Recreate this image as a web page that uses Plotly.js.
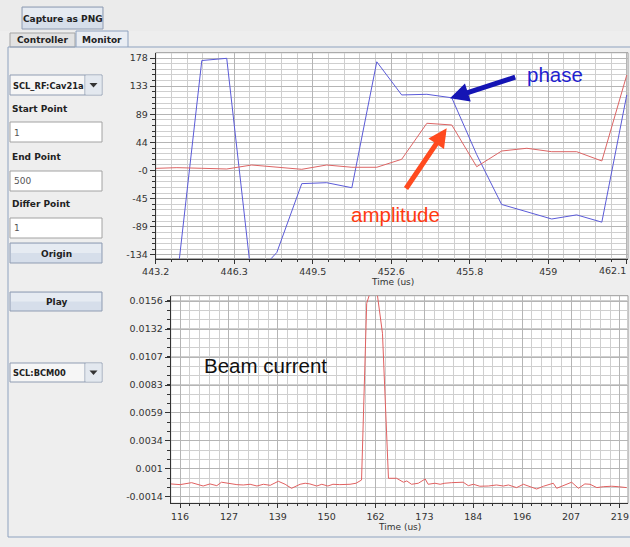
<!DOCTYPE html>
<html><head><meta charset="utf-8">
<script src="https://cdn.plot.ly/plotly-3.0.1.min.js"></script>
<style>html,body{margin:0;padding:0;background:#eeeeee;}#chart{width:630px;height:547px;}</style>
</head><body><div id="chart"></div>
<script>
// ---- top panel: RF cavity phase / amplitude vs time (us)
const topTime = [443.05, 444.05, 445.05, 446.05, 447.05, 448.06, 449.06, 450.06, 451.07, 452.07, 453.07, 454.08, 455.08, 456.08, 457.08, 458.09, 459.09, 460.09, 461.1, 462.1];
const phase = [-170, -175, 174, 177.5, -173, -130, -21, -19.5, -27.5, 172, 119.5, 120.5, 115, 25, -54, -65, -77, -70.5, -82, 119.5];
const amplitude = [3, 4.3, 3.3, 2.2, 8.5, 4.9, 1.7, 8.5, 4.9, 4.9, 17.6, 74.6, 71.9, 5.8, 30.7, 35, 29.6, 29.6, 14.9, 151];
const topXTicks = [443.2, 446.35, 449.5, 452.65, 455.8, 458.95, 462.1];
const topXLabels = ['443.2', '446.3', '449.5', '452.6', '455.8', '459', '462.1'];
const topYTicks = [-134, -89.43, -44.86, -0.29, 44.29, 88.86, 133.43, 178];
const topYLabels = ['-134', '-89', '-45', '-0', '44', '89', '133', '178'];

// ---- bottom panel: beam current vs time (us)
const beamTime = [113.8, 116.0, 118.7, 120.3, 121.4, 123.0, 124.6, 125.7, 127.7, 129.3, 130.8, 132.4, 134.0, 135.5, 137.1, 139.0, 140.6, 142.1, 144.1, 145.3, 146.4, 148.0, 149.2, 150.6, 151.8, 153.4, 155.8, 157.2, 158.5, 159.7, 160.9, 162.0, 163.4, 164.8, 166.7, 168.3, 169.1, 170.2, 171.8, 173.4, 174.1, 175.7, 176.9, 178.0, 179.6, 181.2, 182.3, 183.5, 184.7, 186.2, 188.2, 190.1, 191.7, 192.9, 194.8, 196.4, 197.5, 199.5, 201.1, 203.4, 204.2, 206.1, 207.7, 209.3, 210.8, 212.0, 213.6, 215.1, 217.1, 218.6, 220.6];
const beamCurrent = [-0.00027, -0.00033, -0.00016, -0.00036, -0.00045, -0.00027, -0.00042, -0.00012, -0.00027, -0.00033, -0.00036, -0.0003, -0.00045, -0.0003, -0.00039, -0.00004, -0.0003, -0.00065, -0.0003, -0.00021, -0.00027, -0.00045, -0.0003, -0.00045, -0.0003, -0.00033, -0.0003, -0.00021, 0.00007, 0.0154, 0.0168, 0.0167, 0.0128, 0.00022, 0.00022, -0.00012, -0.00001, -0.0003, -0.00021, 0.00016, -0.0003, -0.00021, -0.0003, -0.00021, -0.00016, -0.00012, -0.00012, -0.00042, -0.0003, -0.00047, -0.00045, -0.00036, -0.00045, -0.00036, -0.00059, -0.0003, -0.00047, -0.00071, -0.00047, -0.00021, -0.00065, -0.00036, -0.00012, -0.00065, -0.00027, -0.0003, -0.00059, -0.00051, -0.00047, -0.00051, -0.00059];
const botXTicks = [116, 127.44, 138.89, 150.33, 161.78, 173.22, 184.67, 196.11, 207.56, 219];
const botXLabels = ['116', '127', '139', '150', '162', '173', '184', '196', '207', '219'];
const botYTicks = [-0.0014, 0.00103, 0.00346, 0.00589, 0.00831, 0.01074, 0.01317, 0.0156];
const botYLabels = ['-0.0014', '0.001', '0.0034', '0.0059', '0.0083', '0.0107', '0.0132', '0.0156'];

// ---- GUI text
const captureLabel = 'Capture as PNG';
const tabLabels = ['Controller', 'Monitor'];
const rfDevice = 'SCL_RF:Cav21a';
const bcmDevice = 'SCL:BCM00';
const fieldLabels = ['Start Point', 'End Point', 'Differ Point'];
const fieldValues = ['1', '500', '1'];
const buttonLabels = ['Origin', 'Play'];
const axisTitle = 'Time (us)';

const W = 630, H = 547;
const X = p => p / W;
const Y = p => 1 - p / H;

const tickFont = {family: 'DejaVu Sans, sans-serif', size: 9.5, color: '#333'};
const guiBold = {family: 'DejaVu Sans, sans-serif', size: 9, color: '#222', weight: 'bold'};
const comboBold = {family: 'DejaVu Sans, sans-serif', size: 8.3, color: '#222', weight: 'bold'};
const guiNorm = {family: 'DejaVu Sans, sans-serif', size: 9, color: '#555'};

function axisBase(extra) {
  return Object.assign({
    tickmode: 'array', ticks: 'outside', ticklen: 4, tickwidth: 1, tickcolor: '#333',
    showline: true, linecolor: '#333', linewidth: 1, zeroline: false,
    showgrid: true, gridcolor: '#b5b5b5', gridwidth: 1, ticklabeloverflow: 'allow',
    tickfont: tickFont, fixedrange: true
  }, extra);
}

const traces = [
  {x: topTime, y: phase, xaxis: 'x', yaxis: 'y', mode: 'lines', line: {color: '#5a5ad8', width: 1}, hoverinfo: 'skip'},
  {x: topTime, y: amplitude, xaxis: 'x', yaxis: 'y', mode: 'lines', line: {color: '#dc6464', width: 1}, hoverinfo: 'skip'},
  {x: beamTime, y: beamCurrent, xaxis: 'x2', yaxis: 'y2', mode: 'lines', line: {color: '#e06060', width: 1}, hoverinfo: 'skip'}
];

const shapes = [];
const annotations = [];
function rect(x0, y0, x1, y1, fill, line) {
  shapes.push({type: 'rect', xref: 'paper', yref: 'paper', x0: X(x0), x1: X(x1), y0: Y(y1), y1: Y(y0),
    fillcolor: fill, line: {color: line || 'rgba(0,0,0,0)', width: line ? 1 : 0}, layer: 'above'});
}
function hline(x0, x1, y, color) {
  shapes.push({type: 'line', xref: 'paper', yref: 'paper', x0: X(x0), x1: X(x1), y0: Y(y), y1: Y(y), line: {color: color, width: 1}, layer: 'above'});
}
function vline(x, y0, y1, color) {
  shapes.push({type: 'line', xref: 'paper', yref: 'paper', x0: X(x), x1: X(x), y0: Y(y0), y1: Y(y1), line: {color: color, width: 1}, layer: 'above'});
}
function text(x, y, t, font, xanchor) {
  annotations.push({xref: 'paper', yref: 'paper', x: X(x), y: Y(y), text: t, showarrow: false,
    font: font, xanchor: xanchor || 'left', yanchor: 'middle'});
}
function tri(cx, cy) {
  shapes.push({type: 'path', xref: 'paper', yref: 'paper',
    path: 'M ' + X(cx - 4) + ' ' + Y(cy - 2) + ' L ' + X(cx + 4) + ' ' + Y(cy - 2) + ' L ' + X(cx) + ' ' + Y(cy + 2.5) + ' Z',
    fillcolor: '#333', line: {width: 0}, layer: 'above'});
}
function button(x0, y0, x1, y1, label) {
  rect(x0, y0, x1, y1, '#d6deea', '#8f9cb2');
  rect(x0 + 1, y0 + 1, x1 - 1, (y0 + y1) / 2, '#e6ebf2');
  text((x0 + x1) / 2, (y0 + y1) / 2 + 0.5, '<b>' + label + '</b>', guiBold, 'center');
}
function combo(x0, y0, x1, y1, label) {
  rect(x0, y0, x1, y1, '#f6f6f6', '#8f9cb2');
  vline(x1 - 17, y0, y1, '#8f9cb2');
  rect(x1 - 16.5, y0 + 0.5, x1 - 0.5, y1 - 0.5, '#e3e8ef');
  tri(x1 - 8.5, (y0 + y1) / 2);
  text(x0 + 0.5, (y0 + y1) / 2 + 0.5, '<b>' + label + '</b>', comboBold);
}
function field(x0, y0, x1, y1, value) {
  rect(x0, y0, x1, y1, '#ffffff', '#a2a2a2');
  text(x0 + 2, (y0 + y1) / 2 + 0.5, value, guiNorm);
}

// toolbar + tabs + panel frame
rect(0, 0, 630, 31, '#ebebeb');
button(22, 7, 103, 29, captureLabel);
rect(10, 33, 75, 47, '#e2e2e2', '#a5a5a5');
text(42.5, 40.5, '<b>' + tabLabels[0] + '</b>', guiBold, 'center');
rect(76, 31, 128, 47, '#e9edf3', '#8ea2bf');
text(102, 40, '<b>' + tabLabels[1] + '</b>', guiBold, 'center');
hline(8, 76, 47, '#8ea2bf');
hline(128, 630, 47, '#8ea2bf');
vline(8, 47, 537, '#8ea2bf');
hline(8, 630, 537, '#8ea2bf');

// left control column
combo(10, 75, 102, 95, rfDevice);
text(10, 108.5, '<b>' + fieldLabels[0] + '</b>', guiBold);
field(10, 122, 102, 142, fieldValues[0]);
text(10, 157, '<b>' + fieldLabels[1] + '</b>', guiBold);
field(10, 171, 102, 191, fieldValues[1]);
text(10, 204.5, '<b>' + fieldLabels[2] + '</b>', guiBold);
field(10, 218, 102, 238, fieldValues[2]);
button(10, 243, 102, 263, buttonLabels[0]);
button(10, 292, 102, 311, buttonLabels[1]);
combo(10, 363, 102, 382, bcmDevice);

// plot borders (top/right)
shapes.push({type: 'rect', xref: 'paper', yref: 'paper', x0: X(155.7), x1: X(628), y0: Y(258.7), y1: Y(52.7), line: {color: '#9a9a9a', width: 1}, fillcolor: 'rgba(0,0,0,0)', layer: 'below'});
shapes.push({type: 'rect', xref: 'paper', yref: 'paper', x0: X(170.7), x1: X(628), y0: Y(503.3), y1: Y(295.7), line: {color: '#9a9a9a', width: 1}, fillcolor: 'rgba(0,0,0,0)', layer: 'below'});

// last top-axis tick label, pulled inside the window like the reference
text(628, 270, topXLabels[topXLabels.length - 1], tickFont, 'right');

// axis titles
text(392, 281.5, axisTitle, {family: 'DejaVu Sans, sans-serif', size: 9, color: '#333'}, 'center');
text(399, 527, axisTitle, {family: 'DejaVu Sans, sans-serif', size: 9, color: '#333'}, 'center');

// callouts
const callFont = 'Liberation Sans, Arial, sans-serif';
annotations.push({xref: 'paper', yref: 'paper', x: X(450), y: Y(98.3), ax: 66.7, ay: -21.6, text: '', showarrow: true,
  arrowcolor: '#1414b4', arrowwidth: 5, arrowhead: 2, arrowsize: 0.75, standoff: 0});
annotations.push({xref: 'paper', yref: 'paper', x: X(446.7), y: Y(128.3), ax: -41.7, ay: 61.7, text: '', showarrow: true,
  arrowcolor: '#ff4a1f', arrowwidth: 5, arrowhead: 2, arrowsize: 0.75, standoff: 0});
text(555, 74, 'phase', {family: callFont, size: 20.5, color: '#1f1fd0'}, 'center');
text(395, 214, 'amplitude', {family: callFont, size: 20.5, color: '#ff3a10'}, 'center');
text(265, 365, 'Beam current', {family: callFont, size: 20.5, color: '#111111'}, 'center');

const layout = {
  width: W, height: H, margin: {l: 0, r: 0, t: 0, b: 0, pad: 0},
  paper_bgcolor: '#eeeeee', plot_bgcolor: '#ffffff', showlegend: false,
  xaxis: axisBase({domain: [X(155.7), X(628)], range: [443.2, 462.15], anchor: 'y',
    tickvals: topXTicks, ticktext: topXLabels.map((s, i) => i === topXLabels.length - 1 ? '' : s),
    minor: {tick0: 443.2, dtick: 0.63, showgrid: true, gridcolor: '#cfcfcf', ticks: 'outside', ticklen: 2, tickcolor: '#333'}}),
  yaxis: axisBase({domain: [Y(258.7), Y(52.7)], range: [-139.9, 186.4], anchor: 'x',
    tickvals: topYTicks, ticktext: topYLabels, ticklen: 5,
    minor: {tick0: -134, dtick: 8.914, showgrid: true, gridcolor: '#cfcfcf', ticks: 'outside', ticklen: 3, tickcolor: '#333'}}),
  xaxis2: axisBase({domain: [X(170.7), X(628)], range: [113.8, 220.9], anchor: 'y2',
    tickvals: botXTicks, ticktext: botXLabels,
    minor: {tick0: 116, dtick: 2.2889, showgrid: true, gridcolor: '#cfcfcf', ticks: 'outside', ticklen: 2, tickcolor: '#333'}}),
  yaxis2: axisBase({domain: [Y(503.3), Y(295.7)], range: [-0.00195, 0.01606], anchor: 'x2',
    tickvals: botYTicks, ticktext: botYLabels, ticklen: 5,
    minor: {tick0: -0.0014, dtick: 0.00080967, showgrid: true, gridcolor: '#cfcfcf', ticks: 'outside', ticklen: 3, tickcolor: '#333'}}),
  shapes: shapes, annotations: annotations
};

Plotly.newPlot('chart', traces, layout, {staticPlot: true, displayModeBar: false});
</script>
</body></html>
